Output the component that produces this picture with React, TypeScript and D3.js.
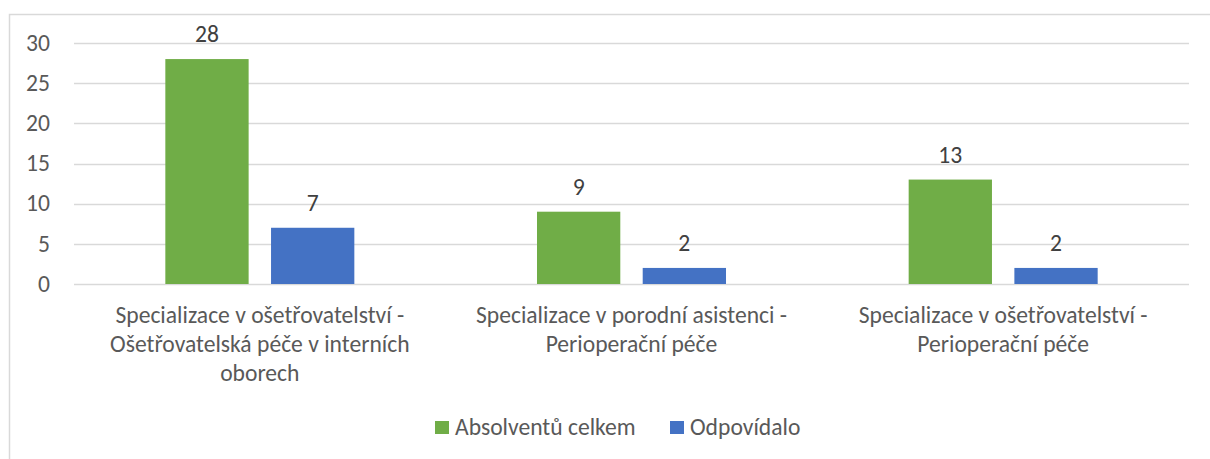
import React, { useEffect, useRef } from 'react';
import * as d3 from 'd3';

const categories: string[][] = [
  ['Specializace v ošetřovatelství -', 'Ošetřovatelská péče v interních', 'oborech'],
  ['Specializace v porodní asistenci -', 'Perioperační péče'],
  ['Specializace v ošetřovatelství -', 'Perioperační péče'],
];
const seriesNames = ['Absolventů celkem', 'Odpovídalo'];
const absolventu = [28, 9, 13];
const odpovidalo = [7, 2, 2];
const yTicks = [0, 5, 10, 15, 20, 25, 30];
const colors = ['#70AD47', '#4472C4'];

const W = 1210;
const H = 459;
const PLOT = { left: 74, right: 1189, top: 43, bottom: 284 };
const FONT = 'Carlito, Calibri, Lato, sans-serif';
const FS = 23.6;
const TEXT = '#595959';

export default function App() {
  const svgRef = useRef<SVGSVGElement>(null);

  useEffect(() => {
    const svg = d3.select(svgRef.current);
    svg.selectAll('*').remove();

    const keys = categories.map((_, i) => String(i));
    const x0 = d3.scaleBand().domain(keys).range([PLOT.left, PLOT.right]);
    const x1 = d3.scaleBand().domain(seriesNames).range([0, x0.bandwidth()])
      .paddingInner(0.212).paddingOuter(0.864);
    const y = d3.scaleLinear().domain([0, 30]).range([PLOT.bottom, PLOT.top]);

    // chart border
    svg.append('rect')
      .attr('x', 9.5).attr('y', 14.5).attr('width', W).attr('height', H)
      .attr('fill', 'white').attr('stroke', '#D9D9D9').attr('stroke-width', 1.5);

    // grid
    svg.append('g').selectAll('line')
      .data(yTicks)
      .join('line')
      .attr('x1', PLOT.left).attr('x2', PLOT.right)
      .attr('y1', d => Math.round(y(d)) + 0.5).attr('y2', d => Math.round(y(d)) + 0.5)
      .attr('stroke', '#D9D9D9').attr('stroke-width', 1.5);

    // y tick labels
    svg.append('g').selectAll('text')
      .data(yTicks)
      .join('text')
      .attr('x', 50).attr('y', d => y(d))
      .attr('dy', '0.33em')
      .attr('text-anchor', 'end')
      .attr('font-family', FONT).attr('font-size', FS).attr('fill', TEXT)
      .text(d => d);

    const rows = categories.map((_, i) => ({ key: keys[i], values: [absolventu[i], odpovidalo[i]] }));

    const groups = svg.append('g').selectAll('g')
      .data(rows)
      .join('g')
      .attr('transform', d => `translate(${x0(d.key)},0)`);

    groups.selectAll('rect')
      .data(d => d.values.map((v, j) => ({ name: seriesNames[j], v, j })))
      .join('rect')
      .attr('x', d => x1(d.name)!)
      .attr('y', d => y(d.v))
      .attr('width', x1.bandwidth())
      .attr('height', d => y(0) - y(d.v))
      .attr('fill', d => colors[d.j]);

    groups.selectAll('text.val')
      .data(d => d.values.map((v, j) => ({ name: seriesNames[j], v })))
      .join('text')
      .attr('class', 'val')
      .attr('x', d => x1(d.name)! + x1.bandwidth() / 2)
      .attr('y', d => y(d.v) - 17)
      .attr('text-anchor', 'middle')
      .attr('font-family', FONT).attr('font-size', FS).attr('fill', '#404040')
      .text(d => d.v);

    // category labels
    categories.forEach((lines, i) => {
      const cx = x0(keys[i])! + x0.bandwidth() / 2;
      const t = svg.append('text')
        .attr('text-anchor', 'middle')
        .attr('font-family', FONT).attr('font-size', FS).attr('fill', TEXT);
      lines.forEach((ln, k) => {
        t.append('tspan').attr('x', cx).attr('y', 323 + k * 29).text(ln);
      });
    });

    // legend
    const legendItems = [
      { name: seriesNames[0], x: 435 },
      { name: seriesNames[1], x: 670 },
    ];
    const lg = svg.append('g');
    legendItems.forEach((it, j) => {
      lg.append('rect').attr('x', it.x).attr('y', 421).attr('width', 14).attr('height', 13).attr('fill', colors[j]);
      lg.append('text').attr('x', it.x + 20).attr('y', 435)
        .attr('font-family', FONT).attr('font-size', FS).attr('fill', TEXT)
        .text(it.name);
    });
  }, []);

  return (
    <svg ref={svgRef} width={W} height={H}
      style={{ position: 'absolute', left: 0, top: 0, display: 'block' }} />
  );
}
